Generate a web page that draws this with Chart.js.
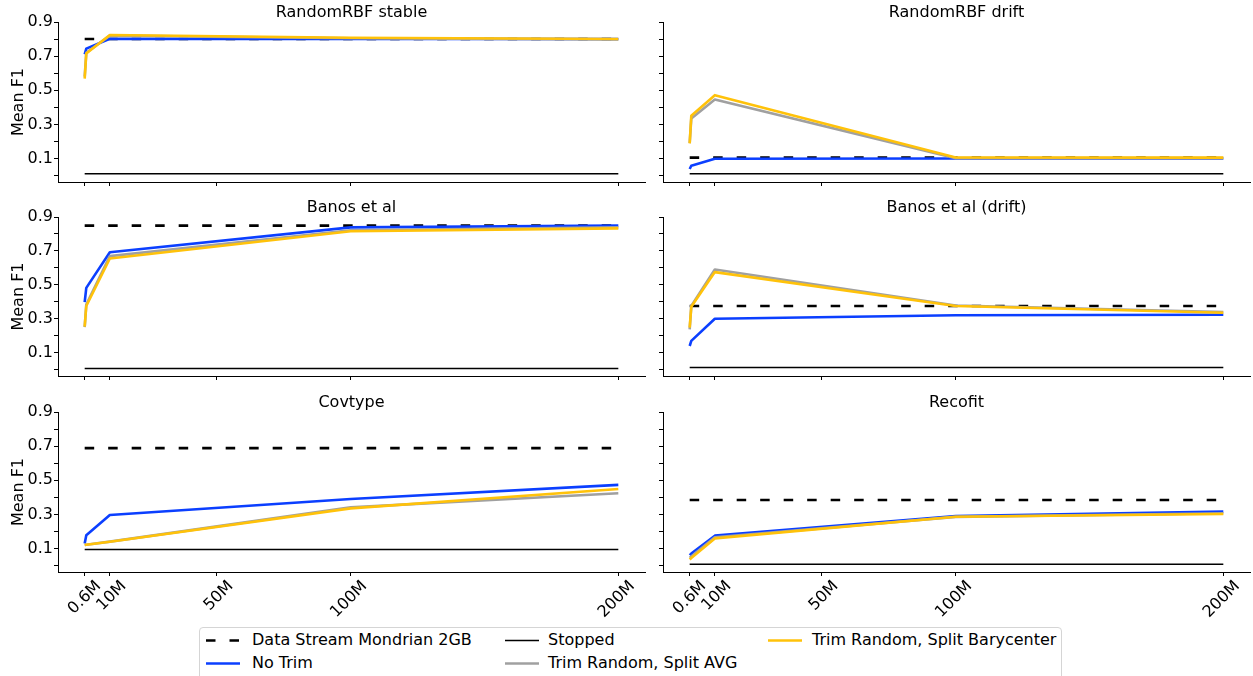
<!DOCTYPE html>
<html>
<head>
<meta charset="utf-8">
<script src="https://cdn.jsdelivr.net/npm/chart.js@4.4.1/dist/chart.umd.min.js"></script>
<style>
  body { margin: 0; background: #fff; font-family: 'DejaVu Sans', sans-serif; }
  #page { position: relative; width: 1253px; height: 676px; overflow: hidden; background: #fff; }
  #page canvas { position: absolute; }
  #legend { position: absolute; left: 199px; top: 627px; width: 863px; height: 60px; border: 1px solid #d5d5d5; border-radius: 4px; box-sizing: border-box; background: #fff; }
  #legend svg { position: absolute; }
  #legend span { position: absolute; font-size: 16px; line-height: 20px; color: #000; white-space: nowrap; }
</style>
</head>
<body>
<div id="page">
  <div id="legend"></div>
</div>
<script>
// x positions of the measurements (millions of samples)
const sizesM = [0.6, 1.2, 10, 100, 200];
const xTickValues = [0.6, 10, 50, 100, 200];
const xTickLabels = ['0.6M', '10M', '50M', '100M', '200M'];
const yTickValues = [0, 0.1, 0.2, 0.3, 0.4, 0.5, 0.6, 0.7, 0.8, 0.9];
const yTickLabels = ['', '0.1', '', '0.3', '', '0.5', '', '0.7', '', '0.9'];

const panelTitles = ['RandomRBF stable', 'RandomRBF drift', 'Banos et al', 'Banos et al (drift)', 'Covtype', 'Recofit'];
const seriesNames = ['Data Stream Mondrian 2GB', 'Stopped', 'No Trim', 'Trim Random, Split AVG', 'Trim Random, Split Barycenter'];

// flat reference levels, one per panel
const mondrian2GB = [0.800, 0.105, 0.849, 0.375, 0.688, 0.384];
const stopped = [0.011, 0.011, 0.006, 0.012, 0.094, 0.008];

// one row per panel, values at sizesM
const noTrim = [
  [0.711, 0.744, 0.802, 0.800, 0.800],
  [0.038, 0.057, 0.098, 0.100, 0.100],
  [0.398, 0.482, 0.692, 0.839, 0.849],
  [0.139, 0.169, 0.300, 0.320, 0.323],
  [0.129, 0.178, 0.296, 0.390, 0.473],
  [0.061, 0.070, 0.175, 0.290, 0.316]
];
const trimAvg = [
  [0.580, 0.720, 0.820, 0.805, 0.798],
  [0.190, 0.334, 0.446, 0.102, 0.102],
  [0.250, 0.384, 0.669, 0.822, 0.839],
  [0.237, 0.375, 0.590, 0.378, 0.340],
  [0.120, 0.122, 0.140, 0.341, 0.424],
  [0.045, 0.053, 0.165, 0.285, 0.306]
];
const trimBary = [
  [0.568, 0.715, 0.824, 0.808, 0.800],
  [0.188, 0.350, 0.471, 0.106, 0.105],
  [0.253, 0.375, 0.655, 0.816, 0.833],
  [0.247, 0.370, 0.575, 0.375, 0.335],
  [0.120, 0.122, 0.139, 0.335, 0.449],
  [0.035, 0.044, 0.159, 0.286, 0.302]
];

const BLUE = '#0b3fff';
const GREY = '#a0a0a0';
const YELLOW = '#ffc20a';
const BLACK = '#000000';
const DASH = [9.5, 14];

const X_MIN = -9.37, X_MAX = 209.97;
const Y_MIN = -0.038, Y_MAX = 0.9;

// layout of the 3x2 grid
const colLeft = [0, 655], colWidth = [655, 598], padRight = [10, 3], yAxisWidth = [58, 8];
const rowTop = [0, 190, 385], rowHeight = [190, 195, 240], xAxisHeight = [8, 9, 53];
const titlePad = [{top: 3.7, bottom: 0.7}, {top: 9.2, bottom: 0.2}, {top: 9.4, bottom: 0}];

Chart.defaults.font.family = "'DejaVu Sans', sans-serif";
Chart.defaults.font.size = 16;
Chart.defaults.color = '#000';

function series(label, xs, ys, color, width, dash, order) {
  return {
    label: label,
    data: xs.map((x, i) => ({x: x, y: ys[i]})),
    borderColor: color,
    backgroundColor: color,
    borderWidth: width,
    borderDash: dash,
    borderJoinStyle: 'round',
    pointRadius: 0,
    fill: false,
    tension: 0,
    order: order
  };
}

const page = document.getElementById('page');

panelTitles.forEach((title, p) => {
  const row = Math.floor(p / 2), col = p % 2;
  const canvas = document.createElement('canvas');
  canvas.width = colWidth[col];
  canvas.height = rowHeight[row];
  canvas.style.left = colLeft[col] + 'px';
  canvas.style.top = rowTop[row] + 'px';
  page.appendChild(canvas);

  const ends = [sizesM[0], sizesM[sizesM.length - 1]];
  const showX = row === 2, showY = col === 0;

  new Chart(canvas, {
    type: 'line',
    data: {
      datasets: [
        series(seriesNames[0], ends, [mondrian2GB[p], mondrian2GB[p]], BLACK, 2.6, DASH, 4),
        series(seriesNames[1], ends, [stopped[p], stopped[p]], BLACK, 1.5, [], 3),
        series(seriesNames[2], sizesM, noTrim[p], BLUE, 2.6, [], 2),
        series(seriesNames[3], sizesM, trimAvg[p], GREY, 2.6, [], 1),
        series(seriesNames[4], sizesM, trimBary[p], YELLOW, 2.6, [], 0)
      ]
    },
    options: {
      responsive: false,
      animation: false,
      devicePixelRatio: 1,
      layout: {padding: {left: 0, right: padRight[col], top: 0, bottom: 0}},
      plugins: {
        legend: {display: false},
        tooltip: {enabled: false},
        title: {
          display: true,
          text: title,
          fullSize: false,
          color: '#000',
          font: {size: 16, weight: 'normal', lineHeight: 1.1},
          padding: titlePad[row]
        }
      },
      scales: {
        x: {
          type: 'linear',
          min: X_MIN,
          max: X_MAX,
          border: {color: '#000', width: 1},
          grid: {drawOnChartArea: false, drawTicks: true, tickLength: 4, tickColor: '#000', tickWidth: 1},
          afterBuildTicks: s => { s.ticks = xTickValues.map(v => ({value: v})); },
          ticks: {
            display: showX,
            autoSkip: false,
            minRotation: 45,
            maxRotation: 45,
            padding: 1,
            labelOffset: 14,
            color: '#000',
            font: {size: 16},
            callback: (v, i) => xTickLabels[i]
          },
          afterFit: s => { s.height = xAxisHeight[row]; s.paddingLeft = 0; s.paddingRight = 0; }
        },
        y: {
          type: 'linear',
          min: Y_MIN,
          max: Y_MAX,
          border: {color: '#000', width: 1},
          grid: {drawOnChartArea: false, drawTicks: true, tickLength: 4, tickColor: '#000', tickWidth: 1},
          afterBuildTicks: s => { s.ticks = yTickValues.map(v => ({value: v})); },
          ticks: {
            display: showY,
            autoSkip: false,
            padding: 1,
            color: '#000',
            font: {size: 16},
            callback: (v, i) => yTickLabels[i]
          },
          title: {
            display: showY,
            text: 'Mean F1',
            color: '#000',
            font: {size: 16},
            padding: {top: 9, bottom: 0}
          },
          afterFit: s => { s.width = yAxisWidth[col]; s.paddingTop = 0; s.paddingBottom = 0; }
        }
      }
    }
  });
});

// shared legend, matplotlib-style 3 columns
const legendItems = [
  {name: seriesNames[0], color: BLACK, width: 2.6, dash: DASH, x: 6, y: 2, tx: 52},
  {name: seriesNames[2], color: BLUE, width: 2.6, dash: [], x: 6, y: 25, tx: 52},
  {name: seriesNames[1], color: BLACK, width: 1.5, dash: [], x: 305, y: 2, tx: 348},
  {name: seriesNames[3], color: GREY, width: 2.6, dash: [], x: 305, y: 25, tx: 348},
  {name: seriesNames[4], color: YELLOW, width: 2.6, dash: [], x: 568, y: 2, tx: 612}
];
const legend = document.getElementById('legend');
legendItems.forEach(it => {
  const svg = document.createElementNS('http://www.w3.org/2000/svg', 'svg');
  svg.setAttribute('width', '36');
  svg.setAttribute('height', '20');
  svg.style.left = it.x + 'px';
  svg.style.top = it.y + 'px';
  const ln = document.createElementNS('http://www.w3.org/2000/svg', 'line');
  ln.setAttribute('x1', '0'); ln.setAttribute('x2', '34');
  ln.setAttribute('y1', '10.5'); ln.setAttribute('y2', '10.5');
  ln.setAttribute('stroke', it.color);
  ln.setAttribute('stroke-width', it.width);
  if (it.dash.length) ln.setAttribute('stroke-dasharray', it.dash.join(' '));
  svg.appendChild(ln);
  legend.appendChild(svg);
  const sp = document.createElement('span');
  sp.textContent = it.name;
  sp.style.left = it.tx + 'px';
  sp.style.top = it.y + 'px';
  legend.appendChild(sp);
});
</script>
</body>
</html>
